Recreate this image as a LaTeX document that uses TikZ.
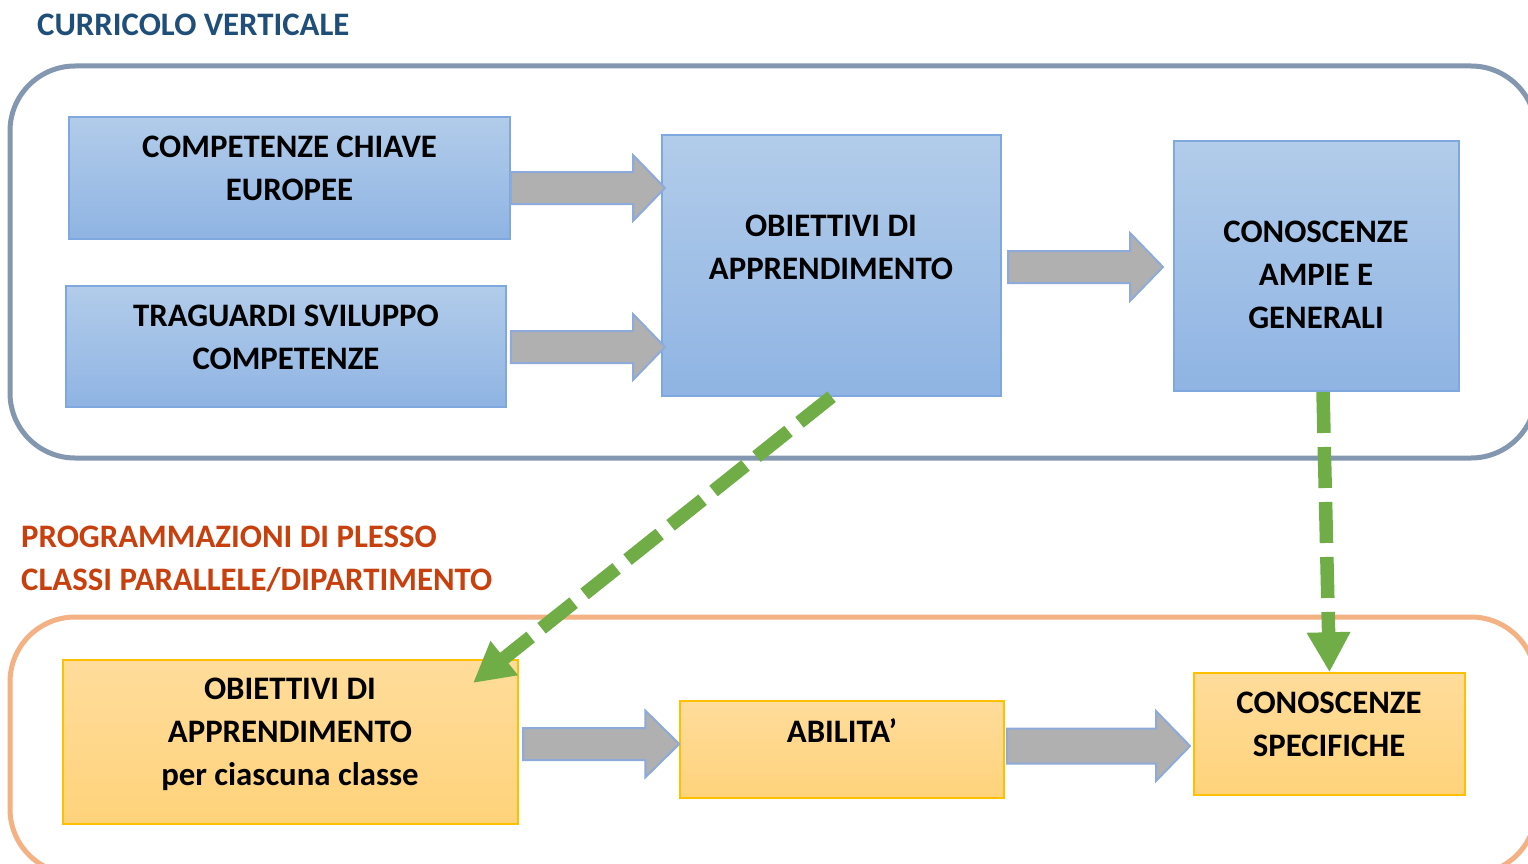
\documentclass[tikz,border=0pt]{standalone}
\usepackage{fontspec}
\setmainfont{Carlito}
\usetikzlibrary{calc,arrows.meta}
\definecolor{titleblue}{HTML}{1F4E79}
\definecolor{titleorange}{HTML}{C8400E}
\definecolor{frameblue}{HTML}{8497B0}
\definecolor{frameorange}{HTML}{F4B183}
\definecolor{boxbluetop}{HTML}{B2CCEA}
\definecolor{boxbluebot}{HTML}{8FB4E3}
\definecolor{boxblueline}{HTML}{7EA8DE}
\definecolor{boxorgtop}{HTML}{FFDC9B}
\definecolor{boxorgbot}{HTML}{FFD37B}
\definecolor{boxorgline}{HTML}{FFC000}
\definecolor{arrowgray}{HTML}{B0B0B0}
\definecolor{arrowline}{HTML}{8EAADB}
\definecolor{dashgreen}{HTML}{70AD47}
\newcommand{\blockarrow}[5]{%
  \draw[grayarrow] let \p1=(#1), \p2=(#2) in
    (\x1,\y1+#3) -- (\x2-#5,\y1+#3) -- (\x2-#5,\y1+#4) -- (\x2,\y1)
    -- (\x2-#5,\y1-#4) -- (\x2-#5,\y1-#3) -- (\x1,\y1-#3) -- cycle;}
\begin{document}
\begin{tikzpicture}[x=1pt,y=-1pt,
  txt/.style={align=center,inner sep=0pt,font=\bfseries\fontsize{32.8}{43}\selectfont},
  heading/.style={inner sep=0pt,font=\bfseries\fontsize{32.8}{43}\selectfont},
  bluebox/.style={draw=boxblueline,line width=1.5pt,top color=boxbluetop,bottom color=boxbluebot,inner sep=0pt},
  orgbox/.style={draw=boxorgline,line width=1.5pt,top color=boxorgtop,bottom color=boxorgbot,inner sep=0pt},
  topframe/.style={draw=frameblue,line width=5pt,rounded corners=65pt},
  botframe/.style={draw=frameorange,line width=5pt,rounded corners=65pt},
  grayarrow/.style={fill=arrowgray,draw=arrowline,line width=2pt,line join=miter},
  greendash/.style={draw=dashgreen,line width=13.5pt,dash pattern=on 41pt off 14pt,
    -{Triangle[length=40pt,width=41pt]}}]
\useasboundingbox (0,0) rectangle (1528,864);
\clip (0,0) rectangle (1528,864);
\fill[white] (0,0) rectangle (1528,864);

% headings
\node[heading,text=titleblue,anchor=west] (h1) at (37,25) {CURRICOLO VERTICALE};
\node[heading,text=titleorange,anchor=west,align=left] (h2) at (21,559) {PROGRAMMAZIONI DI PLESSO\\CLASSI PARALLELE/DIPARTIMENTO};

% frames
\draw[topframe] (10,66) rectangle (1536,458);
\draw[botframe] (10,617) rectangle (1536,874);

% blue boxes
\node[bluebox,minimum width=441pt,minimum height=122pt] (b1) at (289.5,178) {};
\node[bluebox,minimum width=440pt,minimum height=121pt] (b2) at (286,346.5) {};
\node[bluebox,minimum width=339pt,minimum height=261pt] (b3) at (831.5,265.5) {};
\node[bluebox,minimum width=285pt,minimum height=250pt] (b4) at (1316.5,266) {};
% orange boxes
\node[orgbox,minimum width=455pt,minimum height=164pt] (b5) at (290.5,742) {};
\node[orgbox,minimum width=324pt,minimum height=97pt] (b6) at (842,749.5) {};
\node[orgbox,minimum width=271pt,minimum height=122pt] (b7) at (1329.5,734) {};

% box texts
\node[txt] (t1) at (289.5,168.5) {COMPETENZE CHIAVE\\EUROPEE};
\node[txt] (t2) at (286,337) {TRAGUARDI SVILUPPO\\COMPETENZE};
\node[txt] (t3) at (831,247.5) {OBIETTIVI DI\\APPRENDIMENTO};
\node[txt] (t4) at (1316,275) {CONOSCENZE\\AMPIE E\\GENERALI};
\node[txt] (t5) at (290,734.5) {OBIETTIVI DI\\APPRENDIMENTO\\per ciascuna classe};
\node[txt] (t6) at (842,731) {ABILITA’};
\node[txt] (t7) at (1329,724.5) {CONOSCENZE\\SPECIFICHE};

% block arrows
\coordinate (a1s) at (b1.east |- 0,188);
\coordinate (a1e) at (665,188);
\coordinate (a2s) at (b1.east |- 0,347);
\coordinate (a2e) at (665,347);
\coordinate (a3s) at (1008,267);
\coordinate (a3e) at (1163,267);
\coordinate (a4s) at (523,744);
\coordinate (a4e) at (b6.west |- 0,744);
\coordinate (a5s) at (1007,746);
\coordinate (a5e) at (1190,746);
\blockarrow{a1s}{a1e}{16pt}{33pt}{32pt}
\blockarrow{a2s}{a2e}{16pt}{33pt}{32pt}
\blockarrow{a3s}{a3e}{16pt}{34pt}{33pt}
\blockarrow{a4s}{a4e}{16pt}{33.5pt}{34pt}
\blockarrow{a5s}{a5e}{17.5pt}{35pt}{34pt}

% green dashed connectors
\coordinate (g1e) at (473,683);
\coordinate (g2s) at (1323,392);
\draw[greendash] (b3.south) -- (g1e);
\draw[greendash] (g2s) -- (b7.north);
\end{tikzpicture}
\end{document}
